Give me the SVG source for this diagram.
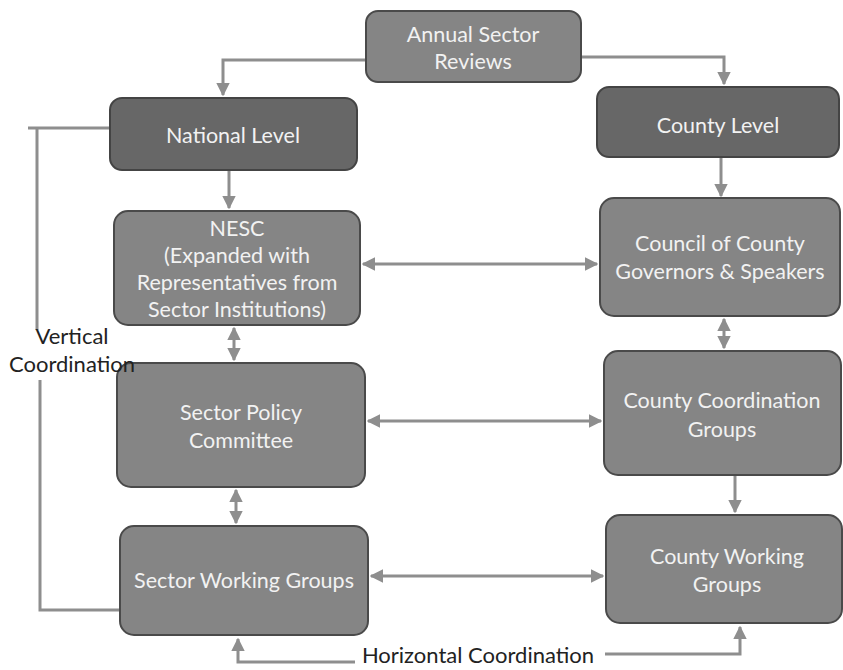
<svg xmlns="http://www.w3.org/2000/svg" width="843" height="670" viewBox="0 0 843 670">
<defs>
<style>
.box{fill:#858585;stroke:#4a4a4a;stroke-width:2}
.dark{fill:#676767;stroke:#444;stroke-width:2}
.t{font-family:Lato,"Open Sans","Liberation Sans",sans-serif;font-size:21.5px;fill:#f2f2f2;text-anchor:middle}
.lbl{font-family:Lato,"Open Sans","Liberation Sans",sans-serif;font-size:22px;fill:#222;text-anchor:middle}
.c{fill:none;stroke:#8e8e8e;stroke-width:3}
</style>
<marker id="ah" viewBox="0 0 10 10" refX="9" refY="5" markerWidth="4.5" markerHeight="4.5" orient="auto-start-reverse" markerUnits="strokeWidth">
<path d="M0,0 L10,5 L0,10 z" fill="#8e8e8e"/>
</marker>
</defs>
<rect width="843" height="670" fill="#ffffff"/>
<g id="connectors">
<path class="c" d="M366,60 H223 V95" marker-end="url(#ah)"/>
<path class="c" d="M581,57 H724 V84" marker-end="url(#ah)"/>
<path class="c" d="M229,170 V208" marker-end="url(#ah)"/>
<path class="c" d="M721,157 V196" marker-end="url(#ah)"/>
<path class="c" d="M363,264 H597" marker-start="url(#ah)" marker-end="url(#ah)"/>
<path class="c" d="M234,328 V360" marker-start="url(#ah)" marker-end="url(#ah)"/>
<path class="c" d="M724,319 V348" marker-start="url(#ah)" marker-end="url(#ah)"/>
<path class="c" d="M368,421 H601" marker-start="url(#ah)" marker-end="url(#ah)"/>
<path class="c" d="M236,490 V523" marker-start="url(#ah)" marker-end="url(#ah)"/>
<path class="c" d="M735,476 V512" marker-end="url(#ah)"/>
<path class="c" d="M371,576 H603" marker-start="url(#ah)" marker-end="url(#ah)"/>
<path class="c" d="M355,662 H238 V639" marker-end="url(#ah)"/>
<path class="c" d="M605,654 H740 V627" marker-end="url(#ah)"/>
<path class="c" d="M110,128 H28 M37,128 V330"/>
<path class="c" d="M40,380 V610 H120"/>
</g>
<g id="annual">
<rect class="box" x="366" y="11" width="215" height="71" rx="12"/>
<text class="t" x="473" y="42">Annual Sector</text>
<text class="t" x="473" y="69">Reviews</text>
</g>
<g id="national">
<rect class="dark" x="110" y="98" width="247" height="72" rx="12"/>
<text class="t" x="233" y="143">National Level</text>
</g>
<g id="county">
<rect class="dark" x="597" y="87" width="242" height="70" rx="12"/>
<text class="t" x="718" y="133">County Level</text>
</g>
<g id="nesc">
<rect class="box" x="114" y="211" width="246" height="114" rx="14"/>
<text class="t" x="237" y="236">NESC</text>
<text class="t" x="237" y="263">(Expanded with</text>
<text class="t" x="237" y="290">Representatives from</text>
<text class="t" x="237" y="317">Sector Institutions)</text>
</g>
<g id="council">
<rect class="box" x="600" y="198" width="240" height="118" rx="14"/>
<text class="t" x="720" y="251">Council of County</text>
<text class="t" x="720" y="279">Governors &amp; Speakers</text>
</g>
<g id="policy">
<rect class="box" x="117" y="363" width="248" height="124" rx="14"/>
<text class="t" x="241" y="420">Sector Policy</text>
<text class="t" x="241" y="448">Committee</text>
</g>
<g id="coordination">
<rect class="box" x="604" y="351" width="237" height="124" rx="14"/>
<text class="t" x="722" y="408">County Coordination</text>
<text class="t" x="722" y="437">Groups</text>
</g>
<g id="sectorworking">
<rect class="box" x="120" y="526" width="248" height="109" rx="14"/>
<text class="t" x="244" y="588">Sector Working Groups</text>
</g>
<g id="countyworking">
<rect class="box" x="606" y="515" width="236" height="108" rx="14"/>
<text class="t" x="727" y="564">County Working</text>
<text class="t" x="727" y="592">Groups</text>
</g>
<g id="labels">
<text class="lbl" x="72" y="344">Vertical</text>
<text class="lbl" x="72" y="372">Coordination</text>
<text class="lbl" x="478" y="663">Horizontal Coordination</text>
</g>
</svg>
